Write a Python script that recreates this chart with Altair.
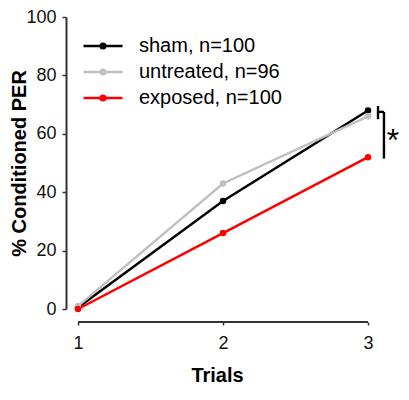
import altair as alt
import pandas as pd

trials = [1, 2, 3]
groups = ["sham, n=100", "untreated, n=96", "exposed, n=100"]
sham = [0.5, 37, 68]
untreated = [1, 43, 66]
exposed = [0, 26, 52]
colors = ["#000000", "#c0c0c0", "#ff0000"]
y_ticks = [0, 20, 40, 60, 80, 100]

rows = []
for g, vals in zip(groups, [sham, untreated, exposed]):
    for t, v in zip(trials, vals):
        rows.append({"trial": t, "pct": v, "group": g})
df = pd.DataFrame(rows)

W, H = 302, 292
FONT = "Liberation Sans"

xscale = alt.Scale(domain=[0.9172, 3], nice=False, zero=False)
yscale = alt.Scale(domain=[0, 100], nice=False)

xaxis = alt.Axis(values=trials, tickCount=10, tickMinStep=0.1, domain=False, offset=13,
                 labelExpr="format(datum.value, 'd')",
                 tickSize=3, tickColor="#333", tickWidth=1.5,
                 labelFontSize=18, labelFont=FONT, labelColor="#111",
                 labelPadding=9, grid=False, labelFlush=False, labelOverlap=False,
                 title="Trials", titleFontSize=20, titleFont=FONT,
                 titleFontWeight="bold", titlePadding=13, titleColor="#000")
yaxis = alt.Axis(values=y_ticks, tickCount=10, domainColor="#333", domainWidth=2,
                 tickSize=4, tickColor="#333", tickWidth=1.5,
                 labelFontSize=18, labelFont=FONT, labelColor="#111",
                 labelPadding=6, grid=False, labelFlush=False, labelOverlap=False,
                 title="% Conditioned PER", titleFontSize=20, titleFont=FONT,
                 titleFontWeight="bold", titleColor="#000",
                 titleX=-47, titleY=H / 2, titleAngle=-90,
                 titleAlign="center", titleBaseline="middle")

legend_path = ("M-3,0H3 "
               "M0.15,0A0.15,0.15 0 1,1 -0.15,0A0.15,0.15 0 1,1 0.15,0 "
               "M0.36,0A0.36,0.36 0 1,1 -0.36,0A0.36,0.36 0 1,1 0.36,0")

lines = alt.Chart(df).mark_line(
    strokeWidth=2.5,
    point=alt.OverlayMarkDef(filled=True, size=42, opacity=1),
).encode(
    x=alt.X("trial:Q", scale=xscale, axis=xaxis),
    y=alt.Y("pct:Q", scale=yscale, axis=yaxis),
    color=alt.Color("group:N", sort=groups,
                    scale=alt.Scale(domain=groups, range=colors),
                    legend=alt.Legend(orient="none", legendX=27, legendY=19,
                                      title=None, padding=0,
                                      symbolType=legend_path, symbolSize=169,
                                      symbolStrokeWidth=2.5, symbolOpacity=1,
                                      labelFontSize=20, labelFont=FONT,
                                      labelColor="#000", labelOffset=26,
                                      rowPadding=6)),
)

xaxis_line = alt.Chart(pd.DataFrame({"a": [trials[0]], "b": [trials[-1]]})).mark_rule(
    color="#333", strokeWidth=2
).encode(x=alt.X("a:Q", scale=xscale, axis=xaxis), x2="b:Q", y=alt.value(H + 13))

# significance bracket
bx1, bx2 = 3.069, 3.110
top = sham[2] + 1.5
mid = (sham[2] + untreated[2]) / 2 + 0.5
bot = untreated[2] - 1.0
br = pd.DataFrame({
    "x": [bx1, bx1, bx2],
    "x2": [bx1, bx2, bx2],
    "y": [top, mid, mid],
    "y2": [bot, mid, exposed[2] - 0.5],
})
bracket = alt.Chart(br).mark_rule(color="#000", strokeWidth=2.4).encode(
    x=alt.X("x:Q", scale=xscale, axis=xaxis), x2="x2:Q",
    y=alt.Y("y:Q", scale=yscale, axis=yaxis), y2="y2:Q",
)
star = alt.Chart(pd.DataFrame({"x": [3.172], "y": [60.0], "t": ["*"]})).mark_text(
    fontSize=32, font=FONT, color="#000", baseline="middle", dy=7
).encode(x=alt.X("x:Q", scale=xscale, axis=xaxis),
         y=alt.Y("y:Q", scale=yscale, axis=yaxis), text="t:N")

chart = alt.layer(lines, xaxis_line, bracket, star).properties(
    width=W, height=H,
    autosize=alt.AutoSizeParams(type="none"),
    padding={"left": 58, "top": 9, "right": 33, "bottom": 75},
).configure_view(stroke=None)

chart.save("out.html", embed_options={"renderer": "svg", "actions": False})
